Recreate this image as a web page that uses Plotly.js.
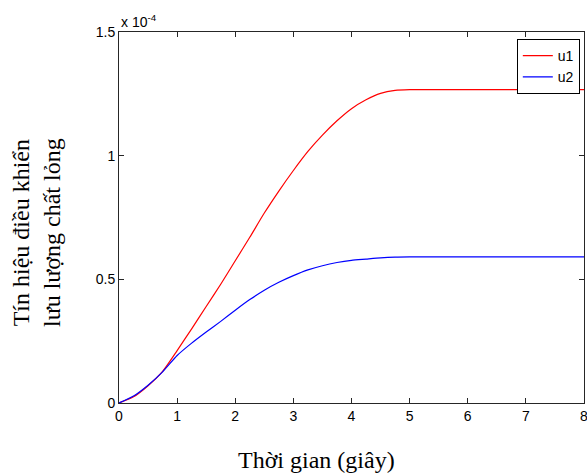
<!DOCTYPE html>
<html>
<head>
<meta charset="utf-8">
<script src="https://cdn.plot.ly/plotly-3.0.1.min.js"></script>
<style>html,body{margin:0;padding:0;background:#fff;}#chart{width:587px;height:476px;}</style>
</head>
<body>
<div id="chart"></div>
<script>
// time (s)
var time = [0, 0.25, 0.5, 0.75, 1.0, 1.25, 1.5, 1.75, 2.0, 2.25, 2.5, 2.75, 3.0, 3.25, 3.5, 3.75, 4.0, 4.25, 4.5, 4.75, 5.0, 5.5, 6.0, 6.5, 7.0, 7.5, 8.0];
// values in units of 1e-4
var u1 = [0, 0.025, 0.07, 0.128, 0.212, 0.30, 0.39, 0.48, 0.575, 0.67, 0.768, 0.857, 0.94, 1.017, 1.083, 1.141, 1.19, 1.226, 1.252, 1.264, 1.267, 1.267, 1.267, 1.267, 1.267, 1.267, 1.267];
var u2 = [0, 0.028, 0.072, 0.126, 0.192, 0.242, 0.287, 0.33, 0.375, 0.418, 0.456, 0.488, 0.515, 0.538, 0.555, 0.568, 0.577, 0.582, 0.587, 0.590, 0.591, 0.591, 0.591, 0.591, 0.591, 0.591, 0.591];
var xTicks = [0, 1, 2, 3, 4, 5, 6, 7, 8];
var yTicks = [0, 0.5, 1, 1.5];
var yTickText = ['0', '0.5', '1', '1.5'];

var axisColor = '#262626';
var tickFont = {family: 'Liberation Sans, Arial, sans-serif', size: 14, color: '#000'};
var serif = 'Liberation Serif, Times New Roman, serif';

var traces = [
  {x: time, y: u1, name: 'u1', type: 'scatter', mode: 'lines', line: {color: '#ff0000', width: 1.2, shape: 'spline', smoothing: 0.6}},
  {x: time, y: u2, name: 'u2', type: 'scatter', mode: 'lines', line: {color: '#0000ff', width: 1.2, shape: 'spline', smoothing: 0.6}}
];

var layout = {
  width: 587, height: 476,
  margin: {l: 119, r: 3, t: 32, b: 73},
  paper_bgcolor: '#fff', plot_bgcolor: '#fff',
  showlegend: true,
  legend: {x: 0.991, y: 0.981, xanchor: 'right', yanchor: 'top', bgcolor: '#fff',
           bordercolor: '#000', borderwidth: 1,
           font: {family: 'Liberation Sans, Arial, sans-serif', size: 14, color: '#000'}},
  xaxis: {range: [0, 8], tickvals: xTicks, ticktext: xTicks.map(String), ticks: 'inside', ticklen: 5,
          tickcolor: axisColor, showline: true, linecolor: axisColor, linewidth: 1, mirror: 'ticks',
          showgrid: false, zeroline: false, tickfont: tickFont, ticklabeloverflow: 'allow'},
  yaxis: {range: [0, 1.5], tickvals: yTicks, ticktext: yTickText, ticks: 'inside', ticklen: 5,
          tickcolor: axisColor, showline: true, linecolor: axisColor, linewidth: 1, mirror: 'ticks',
          showgrid: false, zeroline: false, tickfont: tickFont, ticklabeloverflow: 'allow'},
  annotations: [
    {text: 'x 10<sup>-4</sup>', xref: 'paper', yref: 'paper', x: 0, y: 1, xanchor: 'left', yanchor: 'bottom',
     yshift: 0, showarrow: false, font: tickFont},
    {text: 'Thời gian (giây)', xref: 'paper', yref: 'paper', x: (316 - 119) / 465, y: (403 - 460) / 371,
     xanchor: 'center', yanchor: 'middle', showarrow: false, font: {family: serif, size: 24, color: '#000'}},
    {text: 'Tín hiệu điều khiển<br>lưu lượng chất lỏng', xref: 'paper', yref: 'paper',
     x: (36 - 119) / 465, y: (403 - 233) / 371, xanchor: 'center', yanchor: 'middle', textangle: -90,
     showarrow: false, font: {family: serif, size: 24, color: '#000'}}
  ]
};

Plotly.newPlot('chart', traces, layout, {staticPlot: true, displayModeBar: false});
</script>
</body>
</html>
